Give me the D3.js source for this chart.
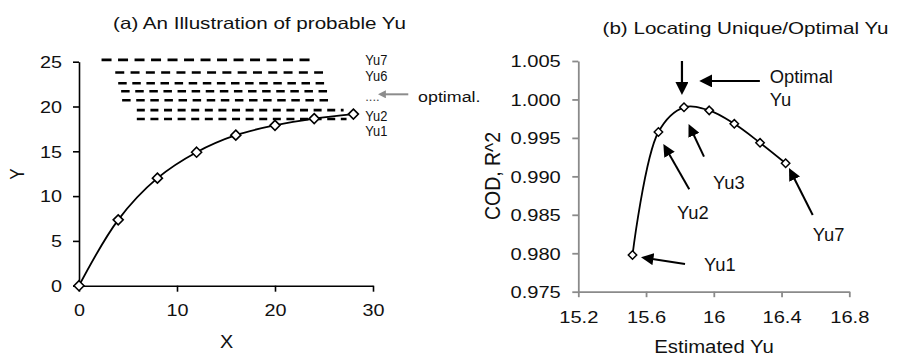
<!DOCTYPE html>
<html><head><meta charset="utf-8">
<script src="https://cdn.jsdelivr.net/npm/d3@7"></script>
<style>
html,body{margin:0;padding:0;background:#fff;}
svg{display:block;}
text{font-family:"Liberation Sans",Arial,sans-serif;fill:#111;}
</style></head>
<body>
<svg id="chart" width="904" height="356"></svg>
<script>
// ---------- data: panel (a) ----------
const xValues = [0, 4, 8, 12, 16, 20, 24, 28];
const yValues = [0, 7.35, 12.0, 14.9, 16.8, 17.9, 18.65, 19.15];
const xTicksA = [0, 10, 20, 30];
const yTicksA = [0, 5, 10, 15, 20, 25];
// probable Yu levels (dashed lines), top to bottom
const yuLevels = [25.2, 23.8, 22.6, 21.7, 20.7, 19.6, 18.6];
const yuLevelStart = [2.3, 3.7, 4.0, 4.3, 4.4, 5.9, 5.9];
const yuLevelEnd = [23.6, 24.9, 25.3, 25.4, 25.6, 27.0, 27.3];
const yuLabelsA = ["Yu7", "Yu6", "....", "Yu2", "Yu1"];
const yuLabelYA = [25.2, 23.35, 20.65, 18.9, 17.2];
const yuLabelXA = 29.2;
const optimalArrowA = {x1: 33.6, x2: 30.5, y: 21.36};
const optimalLabelA = {text: "optimal.", x: 34.6, y: 21.1};

// ---------- data: panel (b) ----------
const estimatedYu = [15.52, 15.673, 15.824, 15.973, 16.121, 16.273, 16.424];
const codR2 = [0.97977, 0.99577, 0.99898, 0.99858, 0.99683, 0.99436, 0.9917];
const xTicksB = [15.2, 15.6, 16, 16.4, 16.8];
const xTickLabelsB = ["15.2", "15.6", "16", "16.4", "16.8"];
const yTicksB = [0.975, 0.98, 0.985, 0.99, 0.995, 1.0, 1.005];
// annotation arrows (data coords): from (x1,y1) to tip (x2,y2)
const arrowsB = [
  {x1: 15.812, y1: 1.0050, x2: 15.812, y2: 1.00058, big: true},
  {x1: 16.272, y1: 1.0024, x2: 15.914, y2: 1.0024, big: true},
  {x1: 15.942, y1: 0.99256, x2: 15.851, y2: 0.99681},
  {x1: 15.855, y1: 0.98832, x2: 15.702, y2: 0.99421},
  {x1: 15.830, y1: 0.97860, x2: 15.570, y2: 0.97947},
  {x1: 16.584, y1: 0.98497, x2: 16.444, y2: 0.99109}
];
const labelsB = [
  {text: "Optimal", x: 16.33, y: 1.0029},
  {text: "Yu", x: 16.33, y: 1.0000},
  {text: "Yu3", x: 15.995, y: 0.98913},
  {text: "Yu2", x: 15.783, y: 0.98523},
  {text: "Yu1", x: 15.942, y: 0.97847},
  {text: "Yu7", x: 16.584, y: 0.98237}
];

// ---------- drawing ----------
const svg = d3.select("#chart");
svg.append("rect").attr("width", 904).attr("height", 356).attr("fill", "#fff");

function addText(g, str, x, y, size, sx, opts = {}) {
  const t = g.append("text")
    .attr("transform", `translate(${x},${y})` + (opts.rotate ? ` rotate(${opts.rotate})` : "") + ` scale(${sx},${opts.sy || 1})`)
    .attr("font-size", size)
    .attr("text-anchor", opts.anchor || "start")
    .attr("dy", opts.dy === undefined ? "0.35em" : opts.dy)
    .text(str);
  if (opts.fill) t.style("fill", opts.fill);
  return t;
}

// defs for arrowheads (tip extends `back` px beyond the line end)
const defs = svg.append("defs");
function marker(id, L, W, color, back) {
  defs.append("marker").attr("id", id)
    .attr("markerUnits", "userSpaceOnUse")
    .attr("viewBox", `${-L} ${-W} ${L} ${2 * W}`)
    .attr("refX", -back).attr("refY", 0)
    .attr("markerWidth", L).attr("markerHeight", 2 * W)
    .attr("orient", "auto")
    .append("path").attr("d", `M0,0L${-L},${-W}L${-L},${W}Z`).attr("fill", color);
}
marker("headBig", 13, 6.5, "#000", 5);
marker("headMid", 12.5, 6, "#000", 5);
marker("headGray", 8, 4, "#8c8c8c", 3);

function diamond(half) {
  return `M0,${-half}L${half},0L0,${half}L${-half},0Z`;
}

// ===== Panel (a) =====
const xA = d3.scaleLinear().domain([0, 30]).range([79, 373]);
const yA = d3.scaleLinear().domain([0, 25]).range([285.7, 61.7]);
const gA = svg.append("g");

const axA = gA.append("g").attr("transform", `translate(0,${yA(0)})`)
  .call(d3.axisBottom(xA).tickValues(xTicksA).tickSize(6).tickSizeOuter(0).tickFormat(d3.format("d")));
const ayA = gA.append("g").attr("transform", `translate(${xA(0)},0)`)
  .call(d3.axisLeft(yA).tickValues(yTicksA).tickSize(6).tickSizeOuter(0).tickFormat(d3.format("d")));
[axA, ayA].forEach(a => {
  a.selectAll("path,line").attr("stroke", "#000").attr("stroke-width", 1.6);
  a.selectAll("text").attr("font-size", 16.5).style("fill", "#111")
    .attr("font-family", "Liberation Sans, Arial, sans-serif");
});
axA.selectAll("text").attr("y", 0).attr("dy", "0").attr("transform", "translate(0,30) scale(1.2,1)");
ayA.selectAll("text").attr("x", 0).attr("dy", "0.35em").attr("transform", "translate(-17,0) scale(1.2,1)");

// dashed probable-Yu lines
const dashStyles = ["10,6.5", "9,6.3", "8.5,5.6", "8.5,5.6", "8.5,5.6", "8,5.6", "8,5.6"];
gA.selectAll("line.yu").data(yuLevels).join("line").attr("class", "yu")
  .attr("x1", (d, i) => xA(yuLevelStart[i])).attr("x2", (d, i) => xA(yuLevelEnd[i]))
  .attr("y1", d => yA(d)).attr("y2", d => yA(d))
  .attr("stroke", "#000").attr("stroke-width", 2.6)
  .attr("stroke-dasharray", (d, i) => dashStyles[i]);

// curve
const lineA = d3.line().x(d => xA(d[0])).y(d => yA(d[1])).curve(d3.curveCatmullRom.alpha(0.5));
const ptsA = xValues.map((x, i) => [x, yValues[i]]);
gA.append("path").attr("d", lineA(ptsA)).attr("fill", "none").attr("stroke", "#000").attr("stroke-width", 1.8);
gA.selectAll("path.mk").data(ptsA).join("path").attr("class", "mk")
  .attr("d", diamond(5)).attr("transform", d => `translate(${xA(d[0])},${yA(d[1])})`)
  .attr("fill", "#fff").attr("stroke", "#000").attr("stroke-width", 1.6);

// Yu labels
yuLabelsA.forEach((t, i) => {
  if (t === "....") addText(gA, t, xA(yuLabelXA), yA(yuLabelYA[i]), 13, 1.0, {dy: "0", fill: "#444"});
  else addText(gA, t, xA(yuLabelXA), yA(yuLabelYA[i]), 14, 0.92);
});
gA.append("line").attr("x1", xA(optimalArrowA.x1)).attr("x2", xA(optimalArrowA.x2) + 3)
  .attr("y1", yA(optimalArrowA.y)).attr("y2", yA(optimalArrowA.y))
  .attr("stroke", "#8c8c8c").attr("stroke-width", 2).attr("marker-end", "url(#headGray)");
addText(gA, optimalLabelA.text, xA(optimalLabelA.x), yA(optimalLabelA.y), 15.5, 1.15);

// titles
addText(gA, "(a) An Illustration of probable Yu", 259.5, 23.5, 16.5, 1.25, {anchor: "middle"});
addText(gA, "X", 226.7, 341.7, 18, 1.1, {anchor: "middle"});
addText(gA, "Y", 17, 174, 17, 1.0, {anchor: "middle", rotate: -90, sy: 1.2});

// ===== Panel (b) =====
const xB = d3.scaleLinear().domain([15.2, 16.8]).range([578.3, 849.3]);
const yB = d3.scaleLinear().domain([0.975, 1.005]).range([291.7, 61]);
const gB = svg.append("g");
const axB = gB.append("g").attr("transform", `translate(0,${yB(0.975)})`)
  .call(d3.axisBottom(xB).tickValues(xTicksB).tickSize(5.5).tickSizeOuter(0).tickFormat((d, i) => xTickLabelsB[i]));
const ayB = gB.append("g").attr("transform", `translate(${xB(15.2)},0)`)
  .call(d3.axisLeft(yB).tickValues(yTicksB).tickSize(6).tickSizeOuter(0).tickFormat(d3.format(".3f")));
[axB, ayB].forEach(a => {
  a.selectAll("path,line").attr("stroke", "#8a8a8a").attr("stroke-width", 1.8);
  a.selectAll("text").attr("font-size", 16.5).style("fill", "#111")
    .attr("font-family", "Liberation Sans, Arial, sans-serif");
});
axB.selectAll("text").attr("y", 0).attr("dy", "0").attr("transform", "translate(0,31) scale(1.22,1)");
ayB.selectAll("text").attr("x", 0).attr("dy", "0.35em").attr("transform", "translate(-17.5,0) scale(1.22,1)");

const ptsB = estimatedYu.map((x, i) => [x, codR2[i]]);
const lineB = d3.line().x(d => xB(d[0])).y(d => yB(d[1])).curve(d3.curveCatmullRom.alpha(0.5));
gB.append("path").attr("d", lineB(ptsB)).attr("fill", "none").attr("stroke", "#000").attr("stroke-width", 1.8);
gB.selectAll("path.mk").data(ptsB).join("path").attr("class", "mk")
  .attr("d", diamond(4.2)).attr("transform", d => `translate(${xB(d[0])},${yB(d[1])})`)
  .attr("fill", "#fff").attr("stroke", "#000").attr("stroke-width", 1.5);

// arrows: line shortened by 5px, marker tip reaches the target point
arrowsB.forEach(a => {
  const X1 = xB(a.x1), Y1 = yB(a.y1), X2 = xB(a.x2), Y2 = yB(a.y2);
  const len = Math.hypot(X2 - X1, Y2 - Y1);
  const back = 5;
  const ex = X2 - (X2 - X1) / len * back, ey = Y2 - (Y2 - Y1) / len * back;
  gB.append("line").attr("x1", X1).attr("y1", Y1).attr("x2", ex).attr("y2", ey)
    .attr("stroke", "#000").attr("stroke-width", a.big ? 2.2 : 2)
    .attr("marker-end", a.big ? "url(#headBig)" : "url(#headMid)");
});

labelsB.forEach(l => addText(gB, l.text, xB(l.x), yB(l.y), 18, 1.02));

addText(gB, "(b) Locating Unique/Optimal Yu", 745.5, 28.5, 16.5, 1.25, {anchor: "middle"});
addText(gB, "Estimated Yu", 714, 347, 18.5, 1.1, {anchor: "middle"});
addText(gB, "COD, R^2", 492, 176, 19.5, 1.0, {anchor: "middle", rotate: -90, sy: 1.1});
</script>
</body></html>
